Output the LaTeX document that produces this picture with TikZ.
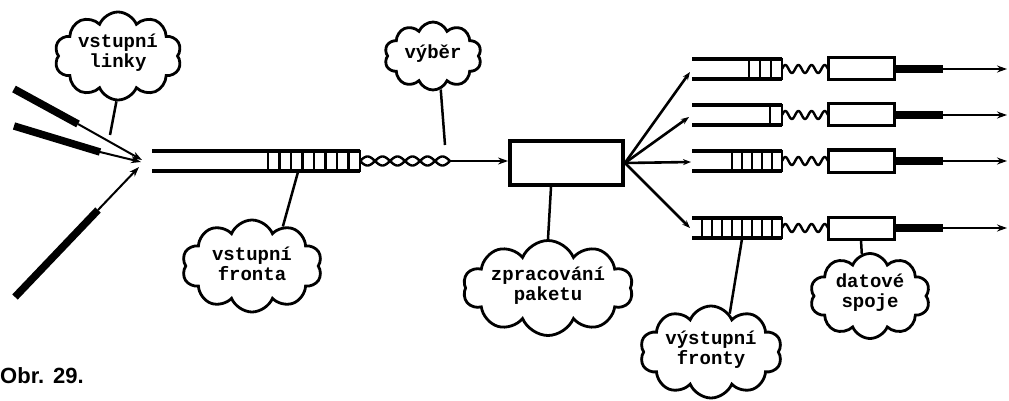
\documentclass[tikz,border=0pt]{standalone}
\usepackage{fontspec}
\setmainfont{Liberation Sans}
\newfontfamily\typewriter{Liberation Mono}
\usetikzlibrary{shapes.symbols,arrows.meta}

% queue: #1 open left end, #2 closed right end, #3 centre y, #4 cells, #5 cell width
\newcommand{\drawqueue}[5]{%
  \draw[qline] (#1,#3-10) -- (#2,#3-10) (#1,#3+10) -- (#2,#3+10);
  \foreach \k in {0,...,#4} \draw[cellline] (#2-\k*#5,#3-11) -- (#2-\k*#5,#3+11);
}

\begin{document}
\begin{tikzpicture}[x=1pt,y=-1pt,
  cloudbox/.style={cloud, draw, line width=2.8pt, cloud puffs=10, cloud puff arc=135,
    cloud ignores aspect, inner sep=0pt},
  cloudtext/.style={align=center, inner sep=0pt,
    font=\typewriter\bfseries\fontsize{19}{20}\selectfont},
  conn/.style={line width=2.5pt},
  thinarrow/.style={line width=2pt, -{Stealth[length=10pt,width=7pt]}},
  fanarrow/.style={line width=2.6pt, -{Stealth[length=8pt,width=6pt]}},
  fat/.style={line width=7.5pt},
  qline/.style={line width=3.4pt},
  cellline/.style={line width=2.8pt},
  wig/.style={line width=2.4pt},
  procbox/.style={draw, line width=3.8pt, inner sep=0pt},
  linkbox/.style={draw, line width=3pt, inner sep=0pt, minimum width=66pt, minimum height=22pt},
]
\useasboundingbox (0,0) rectangle (1009,401);

% ---- incoming lines
\coordinate (a1) at (14,89);   \coordinate (k1) at (78,124);  \coordinate (t1) at (142,160);
\coordinate (a2) at (14,126);  \coordinate (k2) at (100,152); \coordinate (t2) at (141,162);
\coordinate (a3) at (15,297);  \coordinate (k3) at (98,210);  \coordinate (t3) at (139,167);
\draw[fat] (a1) -- (k1);  \draw[thinarrow] (k1) -- (t1);
\draw[fat] (a2) -- (k2);  \draw[thinarrow] (k2) -- (t2);
\draw[fat] (a3) -- (k3);  \draw[thinarrow] (k3) -- (t3);

% ---- input queue
\drawqueue{152}{360}{161}{8}{11.5}
\coordinate (qin) at (298,172);

% ---- selection braid
\draw[wig] plot[domain=0:90, samples=120] ({360+\x},{161+4.5*sin(12*\x)});
\draw[wig] plot[domain=0:90, samples=120] ({360+\x},{161-4.5*sin(12*\x)});
\coordinate (brend) at (450,161);
\coordinate (brlab) at (445,145);

% ---- packet processing
\node[procbox, minimum width=113pt, minimum height=44pt] (proc) at (566.5,163) {};
\draw[thinarrow] (brend) -- (brend -| proc.west);

% ---- output queues and data links
\foreach \yc/\n/\w [count=\i] in {69/3/11, 115/1/12, 161/5/10, 228/8/10}{
  \drawqueue{692}{782}{\yc}{\n}{\w}
  \draw[wig] plot[domain=0:1, samples=80] ({782+46*\x},{\yc-4*sin(1260*\x)});
  \node[linkbox] (b\i) at (861,\yc) {};
  \coordinate (m\i) at (943,\yc);
  \coordinate (o\i) at (1007,\yc);
  \draw[fat] (b\i.east) -- (m\i);
  \draw[thinarrow] (m\i) -- (o\i);
}
\coordinate (f1) at (690,72);
\coordinate (f2) at (689,117);
\coordinate (f3) at (691,162);
\coordinate (f4) at (690,228);
\foreach \i in {1,...,4} \draw[fanarrow] (proc.east) -- (f\i);
\coordinate (qout) at (742,239);

% ---- clouds
\node[cloudbox, minimum width=127pt, minimum height=88pt] (c1) at (118,56) {};
\node[cloudtext] at (118,53) {vstupní\\linky};
\node[cloudbox, minimum width=97pt, minimum height=68pt] (c2) at (433,56) {};
\node[cloudtext] at (433,54) {výběr};
\node[cloudbox, minimum width=140pt, minimum height=92pt] (c3) at (252,266) {};
\node[cloudtext] at (252,264) {vstupní\\fronta};
\node[cloudbox, minimum width=170pt, minimum height=95pt] (c4) at (548,288) {};
\node[cloudtext] at (548,286) {zpracování\\paketu};
\node[cloudbox, minimum width=142pt, minimum height=92pt] (c5) at (711,352) {};
\node[cloudtext] at (711,350) {výstupní\\fronty};
\node[cloudbox, minimum width=120pt, minimum height=85pt] (c6) at (870,296) {};
\node[cloudtext] at (870,293) {datové\\spoje};

\coordinate (lin) at (110,135);
\draw[conn] (c1.268) -- (lin);
\draw[conn] (c2.283) -- (brlab);
\draw[conn] (qin) -- (c3.52);
\draw[conn] ([xshift=3pt]c4.90 |- proc.south) -- (c4.90);
\draw[conn] (qout) -- (c5.64);
\draw[conn] (b4.south) -- (c6.101);

% ---- caption
\node[anchor=base west, inner sep=0pt, font=\bfseries\fontsize{22}{24}\selectfont] (cap) at (0,383) {Obr.\hspace{9pt}29.};
\end{tikzpicture}
\end{document}
